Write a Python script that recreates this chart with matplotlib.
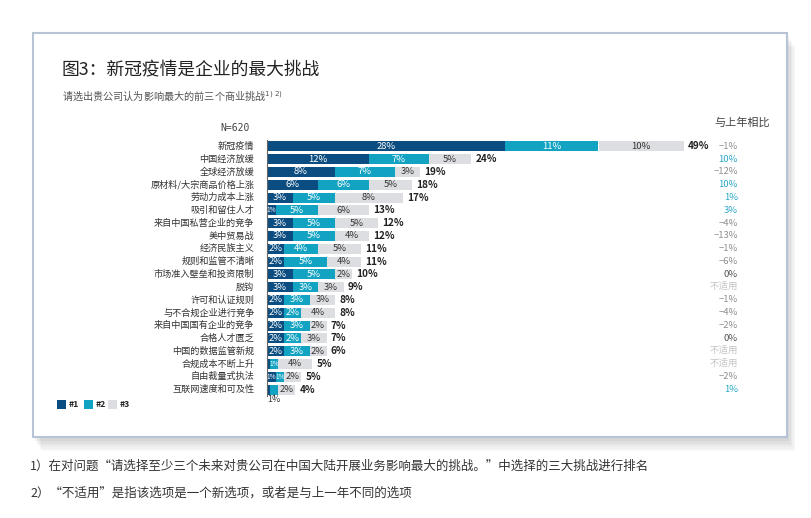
import matplotlib
matplotlib.use("Agg")
import matplotlib.pyplot as plt
from matplotlib.patches import Rectangle
import numpy as np

plt.rcParams['font.family'] = ['Noto Sans CJK SC', 'DejaVu Sans']

categories = ["新冠疫情", "中国经济放缓", "全球经济放缓", "原材料/大宗商品价格上涨", "劳动力成本上涨",
              "吸引和留住人才", "来自中国私营企业的竞争", "美中贸易战", "经济民族主义", "规则和监管不清晰",
              "市场准入壁垒和投资限制", "脱钩", "许可和认证规则", "与不合规企业进行竞争", "来自中国国有企业的竞争",
              "合格人才匮乏", "中国的数据监管新规", "合规成本不断上升", "自由裁量式执法", "互联网速度和可及性"]
rank1 = [28, 12, 8, 6, 3, 1, 3, 3, 2, 2, 3, 3, 2, 2, 2, 2, 2, 0.3, 1, 0.3]
rank2 = [11, 7, 7, 6, 5, 5, 5, 5, 4, 5, 5, 3, 3, 2, 3, 2, 3, 1, 1, 1]
rank3 = [10, 5, 3, 5, 8, 6, 5, 4, 5, 4, 2, 3, 3, 4, 2, 3, 2, 4, 2, 2]
totals = [49, 24, 19, 18, 17, 13, 12, 12, 11, 11, 10, 9, 8, 8, 7, 7, 6, 5, 5, 4]
change = ["-1%", "10%", "-12%", "10%", "1%", "3%", "-4%", "-13%", "-1%", "-6%", "0%", "不适用",
          "-1%", "-4%", "-2%", "0%", "不适用", "不适用", "-2%", "1%"]
legend_labels = ["#1", "#2", "#3"]

C1, C2, C3 = "#0b4d80", "#13a3c2", "#dddee1"

W, H = 812, 518
fig = plt.figure(figsize=(W / 100, H / 100), dpi=100)

def fx(px):
    return px / W

def fy(py):
    return 1 - py / H

# shadow + box
for i, a in enumerate([0.05, 0.06, 0.07, 0.08, 0.09]):
    off = 14 - i * 2.5
    fig.patches.append(Rectangle((fx(33 + off * 0.6), fy(437 + off)), fx(754), 404 / H,
                                 transform=fig.transFigure, facecolor="#808080", alpha=a,
                                 edgecolor="none", zorder=0))
fig.patches.append(Rectangle((fx(33), fy(437)), fx(754), 404 / H, transform=fig.transFigure,
                             facecolor="white", edgecolor="#b9c3d6", linewidth=1.5, zorder=1))

# titles
fig.text(fx(62), fy(70), "图3：新冠疫情是企业的最大挑战", fontsize=12.8, color="#222222",
         va="center", ha="left", zorder=3)
fig.text(fx(62), fy(97), "请选出贵公司认为影响最大的前三个商业挑战$^{1)\\ 2)}$", fontsize=7.3,
         color="#555555", va="center", ha="left", zorder=3)

scale = 8.5
left_px = 267
xmax = 60
ax = fig.add_axes([fx(left_px), fy(396), xmax * scale / W, 256 / H], zorder=4)
ax.set_facecolor("none")
n = len(categories)
y = np.arange(n)
r1 = np.array(rank1); r2 = np.array(rank2); r3 = np.array(rank3)
bh = 0.78
ax.barh(y, r1, height=bh, color=C1, zorder=2)
ax.barh(y, r2, left=r1, height=bh, color=C2, zorder=2)
ax.barh(y, r3, left=r1 + r2, height=bh, color=C3, zorder=2)
ax.set_xlim(0, xmax)
ax.set_ylim(n - 0.5, -0.5)
for s in ["top", "right", "bottom"]:
    ax.spines[s].set_visible(False)
ax.spines["left"].set_color("#666666")
ax.spines["left"].set_linewidth(0.8)
ax.set_xticks([]); ax.set_yticks([])

def seg_fs(w):
    return 6.8 if w >= 1.5 else 4.7

for i in range(n):
    ax.text(-1.5, i, categories[i], ha="right", va="center", fontsize=6.6, color="#333333")
    if r1[i] >= 1:
        ax.text(r1[i] / 2, i, f"{int(round(r1[i]))}%", ha="center", va="center",
                fontsize=seg_fs(r1[i]), color="white")
    if i == n - 1:
        cx = r1[i] + r2[i] / 2
        ax.plot([cx, cx], [i + 0.35, i + 0.55], color="#555555", lw=0.6, clip_on=False)
        ax.text(cx, i + 0.8, f"{int(round(r2[i]))}%", ha="center", va="center",
                fontsize=6.5, color="#333333", clip_on=False)
    elif r2[i] >= 1:
        ax.text(r1[i] + r2[i] / 2, i, f"{int(round(r2[i]))}%", ha="center", va="center",
                fontsize=seg_fs(r2[i]), color="white")
    ax.text(r1[i] + r2[i] + r3[i] / 2, i, f"{int(round(r3[i]))}%", ha="center", va="center",
            fontsize=6.8, color="#333333")
    ax.text(r1[i] + r2[i] + r3[i] + 0.5, i, f"{totals[i]}%", ha="left", va="center",
            fontsize=7.2, color="#222222", fontweight="bold")
    c = change[i]
    if c == "不适用":
        col = "#c4c4c4"
    elif c.startswith("-"):
        col = "#8f8f8f"
    elif c == "0%":
        col = "#555555"
    else:
        col = "#2aa7c6"
    ax.text((738 - left_px) / scale, i, c.replace("-", "−"), ha="right", va="center",
            fontsize=6.8, color=col, clip_on=False)

fig.text(fx(250), fy(128), "N=620", fontsize=7, color="#444444", ha="right", va="center",
         family=["DejaVu Sans Mono"], zorder=5)
fig.text(fx(742), fy(123), "与上年相比", fontsize=8, color="#444444", ha="center",
         va="center", zorder=5)

# legend
lx = [57, 84, 108]
for k, (lab, col) in enumerate(zip(legend_labels, [C1, C2, C3])):
    fig.patches.append(Rectangle((fx(lx[k]), fy(409)), 9 / W, 9 / H, transform=fig.transFigure,
                                 facecolor=col, edgecolor="none", zorder=5))
    fig.text(fx(lx[k] + 12), fy(404.5), lab, fontsize=6.3, color="#222222", ha="left",
             va="center", fontweight="bold", zorder=5)

# footnotes
fig.text(fx(30), fy(466), "1）在对问题“请选择至少三个未来对贵公司在中国大陆开展业务影响最大的挑战。”中选择的三大挑战进行排名",
         fontsize=9, color="#333333", style="italic", ha="left", va="center")
fig.text(fx(30), fy(493), "2）“不适用”是指该选项是一个新选项，或者是与上一年不同的选项",
         fontsize=9, color="#333333", style="italic", ha="left", va="center")

fig.savefig("out.png", dpi=100)
